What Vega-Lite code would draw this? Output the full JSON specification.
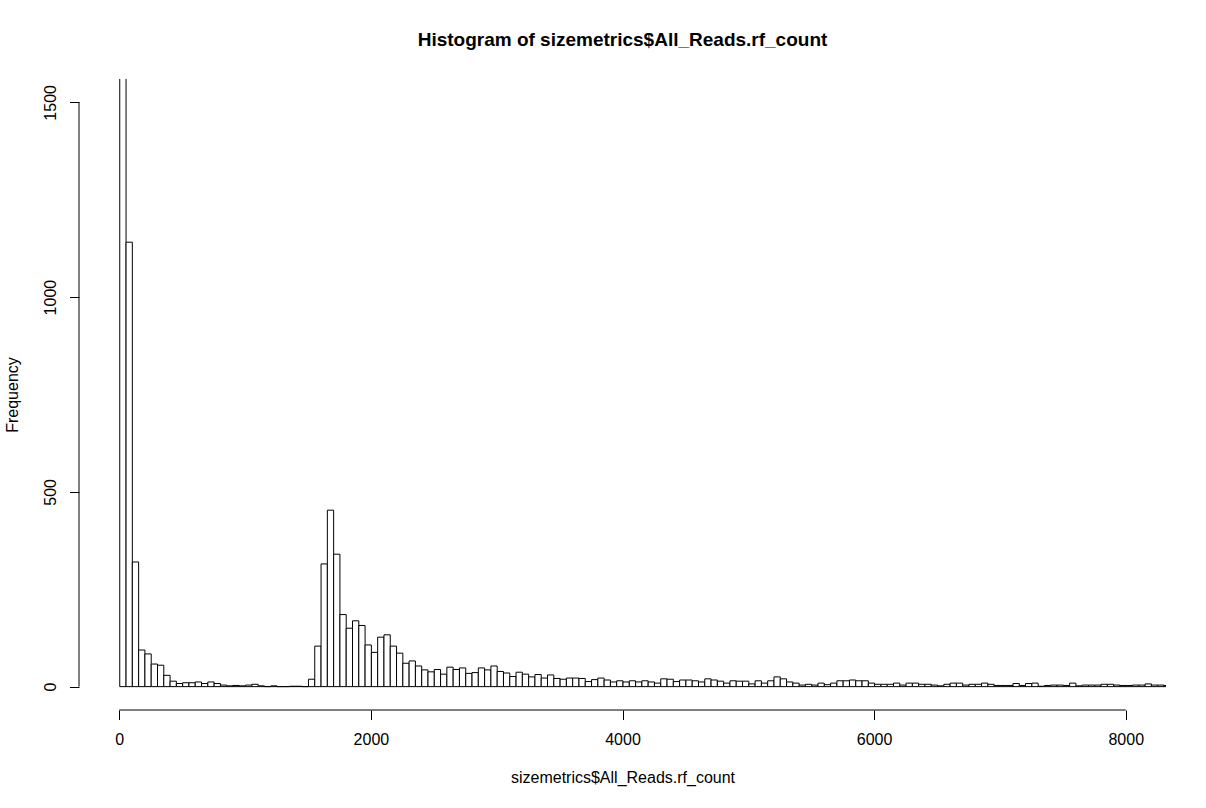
{
  "$schema": "https://vega.github.io/schema/vega-lite/v6.json",
  "autosize": {"type": "none"},
  "width": 1087,
  "height": 631,
  "padding": {"left": 79, "top": 79, "right": 40, "bottom": 98},
  "background": "white",
  "view": {"stroke": null},
  "config": {"font": "Liberation Sans"},
  "title": {"text": "Histogram of sizemetrics$All_Reads.rf_count", "anchor": "middle", "frame": "group", "fontSize": 19, "fontWeight": "bold", "font": "Liberation Sans", "color": "black", "offset": 29},
  "datasets": {
    "bins": [
      {"lo":0,"hi":50,"n":2300},{"lo":50,"hi":100,"n":1141},{"lo":100,"hi":150,"n":320},{"lo":150,"hi":200,"n":94},{"lo":200,"hi":250,"n":84},
      {"lo":250,"hi":300,"n":58},{"lo":300,"hi":350,"n":55},{"lo":350,"hi":400,"n":29},{"lo":400,"hi":450,"n":14},{"lo":450,"hi":500,"n":8},
      {"lo":500,"hi":550,"n":10},{"lo":550,"hi":600,"n":10},{"lo":600,"hi":650,"n":12},{"lo":650,"hi":700,"n":8},{"lo":700,"hi":750,"n":12},
      {"lo":750,"hi":800,"n":8},{"lo":800,"hi":850,"n":4},{"lo":850,"hi":900,"n":2},{"lo":900,"hi":950,"n":3},{"lo":950,"hi":1000,"n":2},
      {"lo":1000,"hi":1050,"n":4},{"lo":1050,"hi":1100,"n":6},{"lo":1100,"hi":1150,"n":2},{"lo":1150,"hi":1200,"n":0},{"lo":1200,"hi":1250,"n":2},
      {"lo":1250,"hi":1300,"n":0},{"lo":1300,"hi":1350,"n":0},{"lo":1350,"hi":1400,"n":1},{"lo":1400,"hi":1450,"n":1},{"lo":1450,"hi":1500,"n":0},
      {"lo":1500,"hi":1550,"n":19},{"lo":1550,"hi":1600,"n":104},{"lo":1600,"hi":1650,"n":315},{"lo":1650,"hi":1700,"n":453},{"lo":1700,"hi":1750,"n":340},
      {"lo":1750,"hi":1800,"n":185},{"lo":1800,"hi":1850,"n":150},{"lo":1850,"hi":1900,"n":169},{"lo":1900,"hi":1950,"n":157},{"lo":1950,"hi":2000,"n":107},
      {"lo":2000,"hi":2050,"n":88},{"lo":2050,"hi":2100,"n":127},{"lo":2100,"hi":2150,"n":133},{"lo":2150,"hi":2200,"n":104},{"lo":2200,"hi":2250,"n":86},
      {"lo":2250,"hi":2300,"n":60},{"lo":2300,"hi":2350,"n":66},{"lo":2350,"hi":2400,"n":53},{"lo":2400,"hi":2450,"n":43},{"lo":2450,"hi":2500,"n":38},
      {"lo":2500,"hi":2550,"n":44},{"lo":2550,"hi":2600,"n":32},{"lo":2600,"hi":2650,"n":50},{"lo":2650,"hi":2700,"n":44},{"lo":2700,"hi":2750,"n":48},
      {"lo":2750,"hi":2800,"n":34},{"lo":2800,"hi":2850,"n":36},{"lo":2850,"hi":2900,"n":48},{"lo":2900,"hi":2950,"n":43},{"lo":2950,"hi":3000,"n":53},
      {"lo":3000,"hi":3050,"n":39},{"lo":3050,"hi":3100,"n":35},{"lo":3100,"hi":3150,"n":26},{"lo":3150,"hi":3200,"n":37},{"lo":3200,"hi":3250,"n":32},
      {"lo":3250,"hi":3300,"n":25},{"lo":3300,"hi":3350,"n":31},{"lo":3350,"hi":3400,"n":22},{"lo":3400,"hi":3450,"n":30},{"lo":3450,"hi":3500,"n":21},
      {"lo":3500,"hi":3550,"n":19},{"lo":3550,"hi":3600,"n":22},{"lo":3600,"hi":3650,"n":22},{"lo":3650,"hi":3700,"n":21},{"lo":3700,"hi":3750,"n":13},
      {"lo":3750,"hi":3800,"n":18},{"lo":3800,"hi":3850,"n":22},{"lo":3850,"hi":3900,"n":17},{"lo":3900,"hi":3950,"n":12},{"lo":3950,"hi":4000,"n":15},
      {"lo":4000,"hi":4050,"n":12},{"lo":4050,"hi":4100,"n":15},{"lo":4100,"hi":4150,"n":12},{"lo":4150,"hi":4200,"n":15},{"lo":4200,"hi":4250,"n":12},
      {"lo":4250,"hi":4300,"n":9},{"lo":4300,"hi":4350,"n":20},{"lo":4350,"hi":4400,"n":19},{"lo":4400,"hi":4450,"n":13},{"lo":4450,"hi":4500,"n":17},
      {"lo":4500,"hi":4550,"n":17},{"lo":4550,"hi":4600,"n":15},{"lo":4600,"hi":4650,"n":12},{"lo":4650,"hi":4700,"n":20},{"lo":4700,"hi":4750,"n":17},
      {"lo":4750,"hi":4800,"n":14},{"lo":4800,"hi":4850,"n":9},{"lo":4850,"hi":4900,"n":15},{"lo":4900,"hi":4950,"n":14},{"lo":4950,"hi":5000,"n":14},
      {"lo":5000,"hi":5050,"n":7},{"lo":5050,"hi":5100,"n":15},{"lo":5100,"hi":5150,"n":9},{"lo":5150,"hi":5200,"n":15},{"lo":5200,"hi":5250,"n":25},
      {"lo":5250,"hi":5300,"n":20},{"lo":5300,"hi":5350,"n":12},{"lo":5350,"hi":5400,"n":9},{"lo":5400,"hi":5450,"n":4},{"lo":5450,"hi":5500,"n":6},
      {"lo":5500,"hi":5550,"n":4},{"lo":5550,"hi":5600,"n":9},{"lo":5600,"hi":5650,"n":5},{"lo":5650,"hi":5700,"n":9},{"lo":5700,"hi":5750,"n":15},
      {"lo":5750,"hi":5800,"n":15},{"lo":5800,"hi":5850,"n":17},{"lo":5850,"hi":5900,"n":15},{"lo":5900,"hi":5950,"n":15},{"lo":5950,"hi":6000,"n":9},
      {"lo":6000,"hi":6050,"n":6},{"lo":6050,"hi":6100,"n":6},{"lo":6100,"hi":6150,"n":6},{"lo":6150,"hi":6200,"n":9},{"lo":6200,"hi":6250,"n":4},
      {"lo":6250,"hi":6300,"n":9},{"lo":6300,"hi":6350,"n":9},{"lo":6350,"hi":6400,"n":6},{"lo":6400,"hi":6450,"n":6},{"lo":6450,"hi":6500,"n":4},
      {"lo":6500,"hi":6550,"n":2},{"lo":6550,"hi":6600,"n":6},{"lo":6600,"hi":6650,"n":9},{"lo":6650,"hi":6700,"n":9},{"lo":6700,"hi":6750,"n":4},
      {"lo":6750,"hi":6800,"n":6},{"lo":6800,"hi":6850,"n":6},{"lo":6850,"hi":6900,"n":9},{"lo":6900,"hi":6950,"n":6},{"lo":6950,"hi":7000,"n":3},
      {"lo":7000,"hi":7050,"n":3},{"lo":7050,"hi":7100,"n":3},{"lo":7100,"hi":7150,"n":8},{"lo":7150,"hi":7200,"n":3},{"lo":7200,"hi":7250,"n":8},
      {"lo":7250,"hi":7300,"n":9},{"lo":7300,"hi":7350,"n":1},{"lo":7350,"hi":7400,"n":3},{"lo":7400,"hi":7450,"n":4},{"lo":7450,"hi":7500,"n":4},
      {"lo":7500,"hi":7550,"n":3},{"lo":7550,"hi":7600,"n":9},{"lo":7600,"hi":7650,"n":2},{"lo":7650,"hi":7700,"n":4},{"lo":7700,"hi":7750,"n":4},
      {"lo":7750,"hi":7800,"n":4},{"lo":7800,"hi":7850,"n":6},{"lo":7850,"hi":7900,"n":6},{"lo":7900,"hi":7950,"n":4},{"lo":7950,"hi":8000,"n":3},
      {"lo":8000,"hi":8050,"n":3},{"lo":8050,"hi":8100,"n":4},{"lo":8100,"hi":8150,"n":4},{"lo":8150,"hi":8200,"n":7},{"lo":8200,"hi":8250,"n":4},
      {"lo":8250,"hi":8300,"n":4},{"lo":8300,"hi":8350,"n":3}
    ]
  },
  "layer": [
    {
      "data": {"name": "bins"},
      "mark": {"type": "bar", "fill": "white", "stroke": "black", "strokeWidth": 1, "clip": true, "binSpacing": 0},
      "encoding": {
        "x": {"field": "lo", "type": "quantitative", "bin": "binned",
          "scale": {"domain": [-320, 8320], "nice": false, "zero": false},
          "axis": {"values": [0, 2000, 4000, 6000, 8000], "format": "d", "domain": false, "grid": false,
            "tickColor": "black", "tickSize": 9.5, "tickWidth": 1, "labelColor": "black", "labelFont": "Liberation Sans",
            "labelFontSize": 16, "labelBaseline": "middle", "labelPadding": 20, "labelFlush": false, "labelOverlap": false,
            "title": "sizemetrics$All_Reads.rf_count", "titleFont": "Liberation Sans", "titleFontSize": 16, "titleFontWeight": "normal",
            "titleColor": "black", "titlePadding": 22}},
        "x2": {"field": "hi"},
        "y": {"field": "n", "type": "quantitative",
          "scale": {"domain": [-60, 1560], "nice": false, "zero": false},
          "axis": {"values": [0, 500, 1000, 1500], "format": "d", "domain": false, "grid": false,
            "tickColor": "black", "tickSize": 9.5, "tickWidth": 1, "labelColor": "black", "labelFont": "Liberation Sans",
            "labelFontSize": 16, "labelAngle": 270, "labelAlign": "center", "labelBaseline": "middle", "labelPadding": 19,
            "labelFlush": false, "labelOverlap": false,
            "title": "Frequency", "titleFont": "Liberation Sans", "titleFontSize": 16, "titleFontWeight": "normal",
            "titleColor": "black", "titlePadding": 22}},
        "y2": {"datum": 0}
      }
    },
    {
      "data": {"values": [{}]},
      "mark": {"type": "rule", "color": "black", "strokeWidth": 1, "clip": false},
      "encoding": {"x": {"datum": 0}, "x2": {"datum": 8000}, "y": {"datum": -60}}
    },
    {
      "data": {"values": [{}]},
      "mark": {"type": "rule", "color": "black", "strokeWidth": 1, "clip": false},
      "encoding": {"x": {"datum": -320}, "y": {"datum": 0}, "y2": {"datum": 1500}}
    }
  ]
}
